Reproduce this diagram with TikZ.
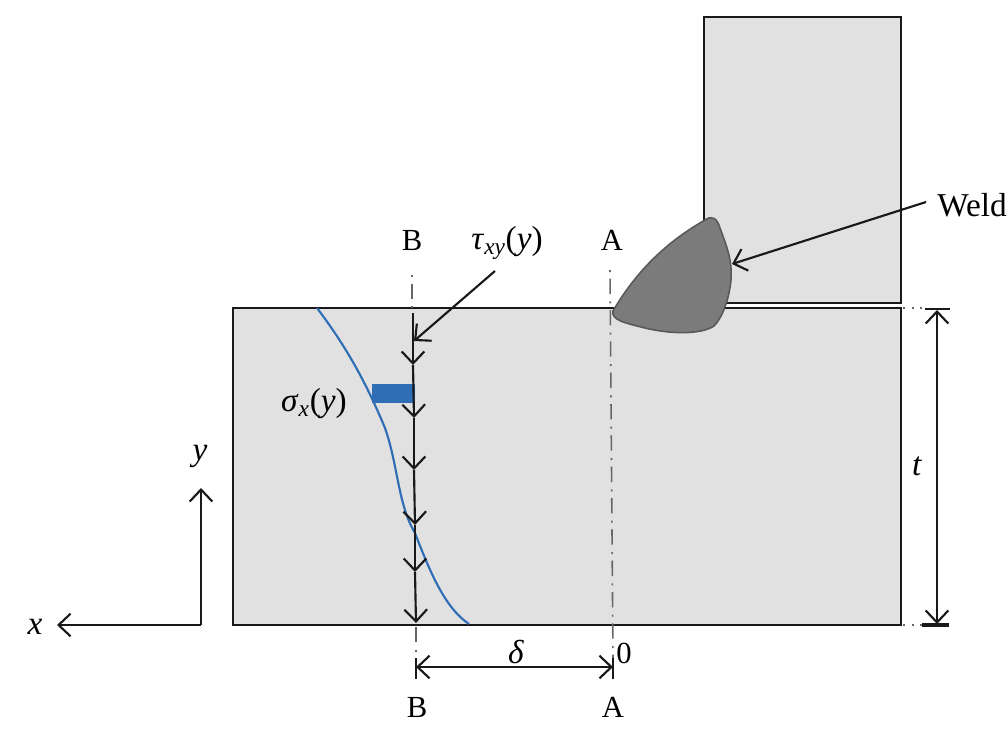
\documentclass[tikz,border=0pt]{standalone}
\usepackage{fontspec}
\setmainfont{Liberation Serif}
\usetikzlibrary{arrows.meta}
\definecolor{plategray}{HTML}{E1E1E1}
\definecolor{weldgray}{HTML}{7B7B7B}
\definecolor{stressblue}{HTML}{2F6DB5}
\tikzset{
  plate/.style={draw=black!90,fill=plategray,line width=1.6pt},
  tick/.style={draw=black!90,line width=1.6pt},
  centre/.style={draw=black!60,line width=1.2pt,dash pattern=on 1.5pt off 5pt on 11.5pt off 5.5pt},
  barbtip/.tip={Straight Barb[length=9pt,width=17pt,line width=1.6pt]},
  barb/.style={draw=black!90,line width=1.6pt,-barbtip},
  lab/.style={font=\fontsize{25}{28}\selectfont,inner sep=0pt},
  caplab/.style={font=\fontsize{23}{26}\selectfont,inner sep=0pt}
}
\begin{document}
\begin{tikzpicture}[x=0.75pt,y=-0.75pt]
   \useasboundingbox (0,0) rectangle (1007,744);
   % plates
   \draw[plate] (704,17) rectangle (901,303);
   \draw[plate] (233,308) rectangle (901,625);
   % centre lines
   \coordinate (btop) at (412,275);
   \coordinate (bplate) at (412,308);
   \coordinate (bbot) at (416,627);
   \coordinate (bend) at (416,655);
   \coordinate (atop) at (610,270);
   \coordinate (aend) at (613,660);
   \draw[centre] (btop) -- (bplate);
   \draw[centre,dash pattern=on 11.5pt off 5.5pt on 1.5pt off 5pt] (bbot) -- (bend);
   \draw[centre] (atop) -- (aend);
   % weld
   \draw[draw=black!65,fill=weldgray,line width=1.2pt] (613,311)
      .. controls (638,268) and (670,240) .. (705,220)
      .. controls (712,215) and (717,218) .. (720,228)
      .. controls (728,250) and (732,260) .. (731,280)
      .. controls (729,300) and (722,318) .. (714,326)
      .. controls (700,335) and (670,334) .. (645,328)
      .. controls (625,323) and (611,320) .. (613,311) -- cycle;
   % stress curve and block
   \draw[stressblue,line width=1.6pt] (317,308)
      .. controls (345,345) and (365,380) .. (385,428)
      .. controls (398,465) and (398,505) .. (415,533)
      .. controls (430,572) and (445,608) .. (469,624);
   \fill[stressblue] (372,384) rectangle (415,403);
   % section line with shear arrows
   \coordinate (s0) at (413,313);
   \coordinate (s1) at (413,365);
   \coordinate (s2) at (414,418);
   \coordinate (s3) at (414,470);
   \coordinate (s4) at (415,525);
   \coordinate (s5) at (415,572);
   \coordinate (s6) at (416,623);
   \draw[barb] (s0) -- (s1);
   \draw[barb] (s1) -- (s2);
   \draw[barb] (s2) -- (s3);
   \draw[barb] (s3) -- (s4);
   \draw[barb] (s4) -- (s5);
   \draw[barb] (s5) -- (s6);
   % labels
   \node[caplab] (labBtop) at (412,240) {B};
   \node[caplab] (labAtop) at (612,240) {A};
   \node[caplab] (labBbot) at (417,707) {B};
   \node[caplab] (labAbot) at (613,707) {A};
   \node[lab] (labTau) at (507,243) {\textit{τ}\textsubscript{\textit{xy}}(\textit{y})};
   \node[lab] (labSigma) at (314,404) {\textit{σ}\textsubscript{\textit{x}}(\textit{y})};
   \node[lab,anchor=west] (labWeld) at (937,205) {Weld};
   \node[lab] (labDelta) at (516,652) {\textit{δ}};
   \node[caplab] (labZero) at (624,653) {0};
   \node[lab] (labT) at (917,466) {\textit{t}};
   \node[lab] (labX) at (35,627) {\textit{x}};
   \node[lab] (labY) at (200,456) {\textit{y}};
   % leaders
   \coordinate (tauend) at (495,271);
   \coordinate (tautip) at (414,341);
   \coordinate (weldend) at (926,202);
   \coordinate (weldtip) at (732,264);
   \draw[barb] (tauend) -- (tautip);
   \draw[barb] (weldend) -- (weldtip);
   % axes
   \coordinate (origin) at (201,625);
   \coordinate (xtip) at (57,625);
   \coordinate (ytip) at (201,488);
   \draw[barb] (origin) -- (xtip);
   \draw[barb] (origin) -- (ytip);
   % dimension delta
   \coordinate (dl) at (416,667);
   \coordinate (dr) at (613,667);
   \draw[tick] (416,658) -- (416,679);
   \draw[tick] (613,658) -- (613,679);
   \draw[barb,barbtip-barbtip] (dl) -- (dr);
   % dimension t
   \coordinate (tt) at (937,310);
   \coordinate (tb) at (937,624);
   \draw[centre,dash pattern=on 1.5pt off 5pt] (903,308) -- (925,308);
   \draw[centre,dash pattern=on 1.5pt off 5pt] (903,625) -- (922,625);
   \draw[tick] (925,309) -- (950,309);
   \draw[tick,line width=2.4pt] (922,625) -- (949,625);
   \draw[barb,barbtip-barbtip] (tt) -- (tb);
\end{tikzpicture}
\end{document}
